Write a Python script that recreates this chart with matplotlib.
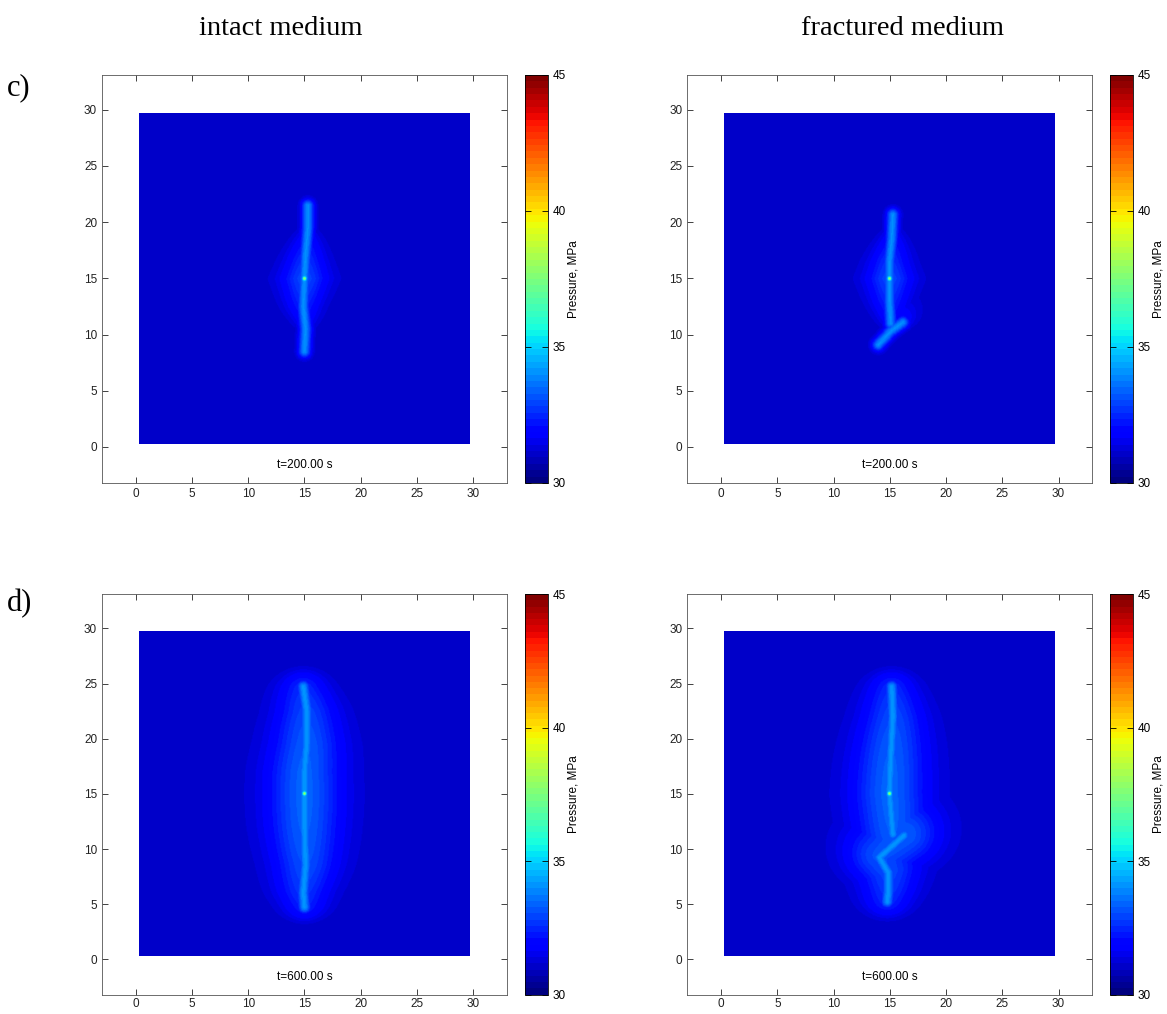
# Pressure fields around a hydraulic fracture: intact vs fractured medium

import numpy as np
import matplotlib.pyplot as plt

plt.rcParams['font.family'] = ['Liberation Sans', 'DejaVu Sans']

# column / row labels
col_titles = ['intact medium', 'fractured medium']
row_labels = ['c)', 'd)']
time_labels = ['t=200.00 s', 't=600.00 s']

# colour scale
p_min, p_max = 30, 45
cb_ticks = [30, 35, 40, 45]
p_background = 31.0

# fracture traces (x, y in m), one list of polylines per panel
frac_c_intact = [[(15.3, 21.5), (15.3, 19.5), (15.1, 17.0), (15.0, 15.0),
                  (14.9, 12.5), (15.1, 10.5), (15.0, 8.5)]]
frac_c_fractured = [[(15.3, 20.7), (15.2, 18.5), (15.0, 16.5), (15.0, 15.0),
                     (15.0, 13.0), (15.1, 11.0)],
                    [(16.2, 11.1), (15.1, 10.3), (14.0, 9.1)]]
frac_d_intact = [[(14.9, 24.7), (15.2, 22.5), (15.2, 19.5), (15.0, 17.0),
                  (15.0, 15.0), (15.0, 12.0), (15.1, 8.5), (14.9, 6.0),
                  (15.0, 4.7)]]
frac_d_fractured = [[(15.2, 24.7), (15.3, 22.0), (15.1, 18.0), (15.0, 15.0),
                     (15.2, 12.5), (15.3, 11.3)],
                    [(16.3, 11.2), (15.2, 10.2), (14.1, 9.2)],
                    [(14.1, 9.2), (14.9, 7.8), (14.9, 6.2), (14.8, 5.2)]]

# fracture pressure and halo size (half widths in x and y) per time
core_p = [34.0, 34.1]
core_w = [0.55, 0.6]
halo_p = [2.0, 2.4]
halo_ax = [1.8, 3.0]
halo_ay = [4.8, 12.5]
tip_shape = [1.0, 2.0]
injection_p = 35.5

fracs = [[frac_c_intact, frac_c_fractured], [frac_d_intact, frac_d_fractured]]

dom = np.linspace(0.3, 29.7, 400)
X, Y = np.meshgrid(dom, dom)


def dist_to_polyline(pts):
    d = np.full(X.shape, np.inf)
    for (x0, y0), (x1, y1) in zip(pts[:-1], pts[1:]):
        dx, dy = x1 - x0, y1 - y0
        t = ((X - x0) * dx + (Y - y0) * dy) / (dx * dx + dy * dy)
        t = np.clip(t, 0, 1)
        d = np.minimum(d, np.hypot(X - (x0 + t * dx), Y - (y0 + t * dy)))
    return d


def pressure_field(lines, k):
    d = np.min([dist_to_polyline(l) for l in lines], axis=0)
    core = (core_p[k] - p_background) * np.exp(-(d / core_w[k]) ** 2)
    # lens shaped halo: narrows and fades towards the fracture tips
    tips = np.clip(1 - np.abs((Y - 15) / halo_ay[k]) ** tip_shape[k], 0, 1)
    w = halo_ax[k] * np.sqrt(tips) + 0.3
    halo = halo_p[k] * np.sqrt(tips) * np.exp(-(d / w) ** 2)
    p = p_background + np.maximum(core, halo)
    p += (injection_p - p_background) * np.exp(-((X - 15) ** 2 + (Y - 15) ** 2) / 0.02)
    return p


cmap = plt.get_cmap('jet', 64)

fig = plt.figure(figsize=(11.67, 10.14), dpi=100)

ax_left = [0.0874, 0.589]
cb_left = [0.4499, 0.951]
ax_bottom = [0.5237, 0.019]
ax_height = [0.4024, 0.395]

for r in range(2):
    for c in range(2):
        ax = fig.add_axes([ax_left[c], ax_bottom[r], 0.347, ax_height[r]])
        P = pressure_field(fracs[r][c], r)
        im = ax.imshow(P, origin='lower', extent=[0.3, 29.7, 0.3, 29.7],
                       cmap=cmap, vmin=p_min, vmax=p_max,
                       interpolation='bilinear', aspect='auto')
        ax.set_xlim(-3.0, 33.0)
        ax.set_ylim(-3.2, 33.1)
        ax.set_xticks(range(0, 31, 5))
        ax.set_yticks(range(0, 31, 5))
        ax.tick_params(direction='in', top=True, right=True, length=4,
                       width=0.6, labelsize=8.5, colors='#222222')
        if r == 1:
            ax.tick_params(axis='x', pad=2)
        for s in ax.spines.values():
            s.set_linewidth(0.6)
            s.set_color('#555555')
        ax.text(15, -1.6, time_labels[r], ha='center', va='center', fontsize=8.5)

        cax = fig.add_axes([cb_left[c], ax_bottom[r], 0.0197, ax_height[r]])
        cb = fig.colorbar(im, cax=cax, ticks=cb_ticks)
        cb.outline.set_linewidth(0.6)
        cb.ax.tick_params(direction='in', left=True, right=True, length=4,
                          width=0.6, labelsize=8.5)
        cb.set_label('Pressure, MPa', fontsize=8.5, labelpad=1)

col_x = [0.241, 0.773]
for c in range(2):
    fig.text(col_x[c], 0.972, col_titles[c], ha='center', va='center',
             fontsize=20.5, family=['Liberation Serif', 'DejaVu Serif'])

row_y = [0.913, 0.405]
for r in range(2):
    fig.text(0.006, row_y[r], row_labels[r], ha='left', va='center',
             fontsize=22, family=['Liberation Serif', 'DejaVu Serif'])

plt.savefig('out.png', dpi=100)
